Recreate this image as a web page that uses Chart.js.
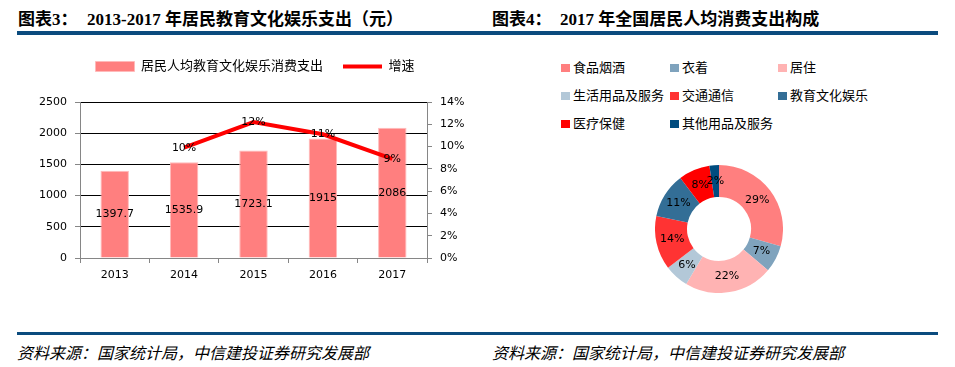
<!DOCTYPE html>
<html>
<head>
<meta charset="utf-8">
<script src="https://cdn.jsdelivr.net/npm/chart.js@4.4.1/dist/chart.umd.min.js"></script>
<style>
  body { margin: 0; width: 955px; height: 367px; background: #fff; position: relative; overflow: hidden; }
  .title { position: absolute; top: 5px; line-height: 22px; white-space: nowrap; color: #000;
           font: bold 17px "Liberation Serif", "Noto Sans CJK SC", serif; }
  .rule { position: absolute; left: 17px; width: 921px; background: #0B4B7E; }
  .src { position: absolute; top: 340px; line-height: 20px; white-space: nowrap; color: #000;
         font: italic 16px "Noto Sans CJK SC", sans-serif; }
  canvas { position: absolute; }
  #pieLegend div { position: absolute; line-height: 16px; white-space: nowrap; color: #000;
                   font: 13px "Noto Sans CJK SC", sans-serif; }
  #pieLegend span { display: inline-block; width: 9px; height: 8px; margin-right: 3px; vertical-align: 0px; }
</style>
</head>
<body>
<div class="title" style="left:18px">图表3：</div>
<div class="title" style="left:87px">2013-2017 年居民教育文化娱乐支出（元）</div>
<div class="title" style="left:492px">图表4：</div>
<div class="title" style="left:560px">2017 年全国居民人均消费支出构成</div>
<div class="rule" style="top:31px;height:4px"></div>
<div class="rule" style="top:332px;height:3px"></div>
<div class="src" style="left:17px">资料来源：国家统计局，中信建投证券研究发展部</div>
<div class="src" style="left:492px">资料来源：国家统计局，中信建投证券研究发展部</div>

<canvas id="spendChart" width="490" height="250" style="left:10px;top:40px"></canvas>
<div id="pieLegend"></div>
<canvas id="shareChart" width="128" height="128" style="left:655px;top:165px"></canvas>

<script>
// left chart: per-capita education/culture/entertainment spending
const years = ["2013", "2014", "2015", "2016", "2017"];
const spending = [1397.7, 1535.9, 1723.1, 1915, 2086];
const growth = [null, 9.9, 12.2, 11.1, 8.9];

// right chart: 2017 consumption structure (%)
const categories = ["食品烟酒", "衣着", "居住", "生活用品及服务", "交通通信", "教育文化娱乐", "医疗保健", "其他用品及服务"];
const shares = [29.3, 6.8, 22.4, 6.1, 13.6, 11.4, 7.9, 2.4];
const shareColors = ["#FF7F7F", "#7FA3BD", "#FFB3B3", "#B3C8D8", "#FF3333", "#336E96", "#FF0000", "#004C7F"];

Chart.defaults.font.family = "'DejaVu Sans', 'Noto Sans CJK SC', sans-serif";
Chart.defaults.font.size = 11;
Chart.defaults.color = "#000";

// draws dataset.labels on top of each element
const valueLabels = {
  id: "valueLabels",
  afterDatasetsDraw(chart) {
    const ctx = chart.ctx;
    ctx.save();
    ctx.font = "11px 'DejaVu Sans'";
    ctx.fillStyle = "#000";
    ctx.textAlign = "center";
    ctx.textBaseline = "middle";
    chart.data.datasets.forEach((ds, i) => {
      if (!ds.labels) return;
      chart.getDatasetMeta(i).data.forEach((el, j) => {
        const txt = ds.labels[j];
        if (!txt) return;
        const p = el.getCenterPoint();
        ctx.fillText(txt, p.x, p.y);
      });
    });
    ctx.restore();
  }
};

// make the legend take a fixed height so the plot lines up
const legendHeight = {
  id: "legendHeight",
  beforeInit(chart) {
    const fit = chart.legend.fit;
    chart.legend.fit = function () {
      fit.call(this);
      this.height = 62;
    };
  }
};

const gray = "#868686";

new Chart(document.getElementById("spendChart"), {
  type: "bar",
  data: {
    labels: years,
    datasets: [
      {
        type: "bar",
        label: "居民人均教育文化娱乐消费支出",
        data: spending,
        labels: spending.map(String),
        backgroundColor: "#FF7F7F",
        borderColor: "#FFBABA",
        borderWidth: 1,
        categoryPercentage: 1,
        barPercentage: 0.41,
        pointStyle: "rect",
        order: 2,
        yAxisID: "y"
      },
      {
        type: "line",
        label: "增速",
        data: growth,
        labels: growth.map(v => v == null ? "" : Math.round(v) + "%"),
        borderColor: "#FF0000",
        backgroundColor: "#FF0000",
        borderWidth: 4,
        pointRadius: 0,
        pointStyle: "line",
        tension: 0,
        order: 1,
        yAxisID: "y1"
      }
    ]
  },
  options: {
    responsive: false,
    animation: false,
    devicePixelRatio: 1,
    layout: { padding: 0 },
    plugins: {
      tooltip: { enabled: false },
      legend: {
        position: "top",
        labels: {
          usePointStyle: true,
          pointStyleWidth: 39,
          boxHeight: 10,
          padding: 20,
          font: { size: 13 },
          sort: (a, b) => a.datasetIndex - b.datasetIndex
        }
      }
    },
    scales: {
      x: {
        grid: { display: true, drawOnChartArea: false, color: gray, tickLength: 5 },
        border: { color: gray },
        ticks: { padding: 6 },
        afterFit: s => { s.height = 32; }
      },
      y: {
        position: "left",
        min: 0,
        max: 2500,
        ticks: { stepSize: 500, padding: 8, callback: v => String(v) },
        grid: {
          color: c => (c.tick && c.tick.value === 0 ? gray : "#000"),
          tickColor: gray,
          tickLength: 5
        },
        border: { color: gray },
        afterFit: s => { s.width = 70; }
      },
      y1: {
        position: "right",
        min: 0,
        max: 14,
        ticks: { stepSize: 2, padding: 8, callback: v => v + "%" },
        grid: { drawOnChartArea: false, color: gray, tickLength: 5 },
        border: { color: gray },
        afterFit: s => { s.width = 73; }
      }
    }
  },
  plugins: [valueLabels, legendHeight]
});

// right legend in three columns
const legendBox = document.getElementById("pieLegend");
const colX = [561, 670, 778];
const rowY = [57, 85, 113];
categories.forEach((name, i) => {
  const item = document.createElement("div");
  item.style.left = colX[i % 3] + "px";
  item.style.top = rowY[Math.floor(i / 3)] + "px";
  item.innerHTML = '<span style="background:' + shareColors[i] + '"></span>' + name;
  legendBox.appendChild(item);
});

new Chart(document.getElementById("shareChart"), {
  type: "doughnut",
  data: {
    labels: categories,
    datasets: [{
      data: shares,
      labels: shares.map(v => Math.round(v) + "%"),
      backgroundColor: shareColors,
      borderWidth: 0
    }]
  },
  options: {
    responsive: false,
    animation: false,
    devicePixelRatio: 1,
    cutout: "50%",
    plugins: { legend: { display: false }, tooltip: { enabled: false } }
  },
  plugins: [valueLabels]
});
</script>
</body>
</html>
